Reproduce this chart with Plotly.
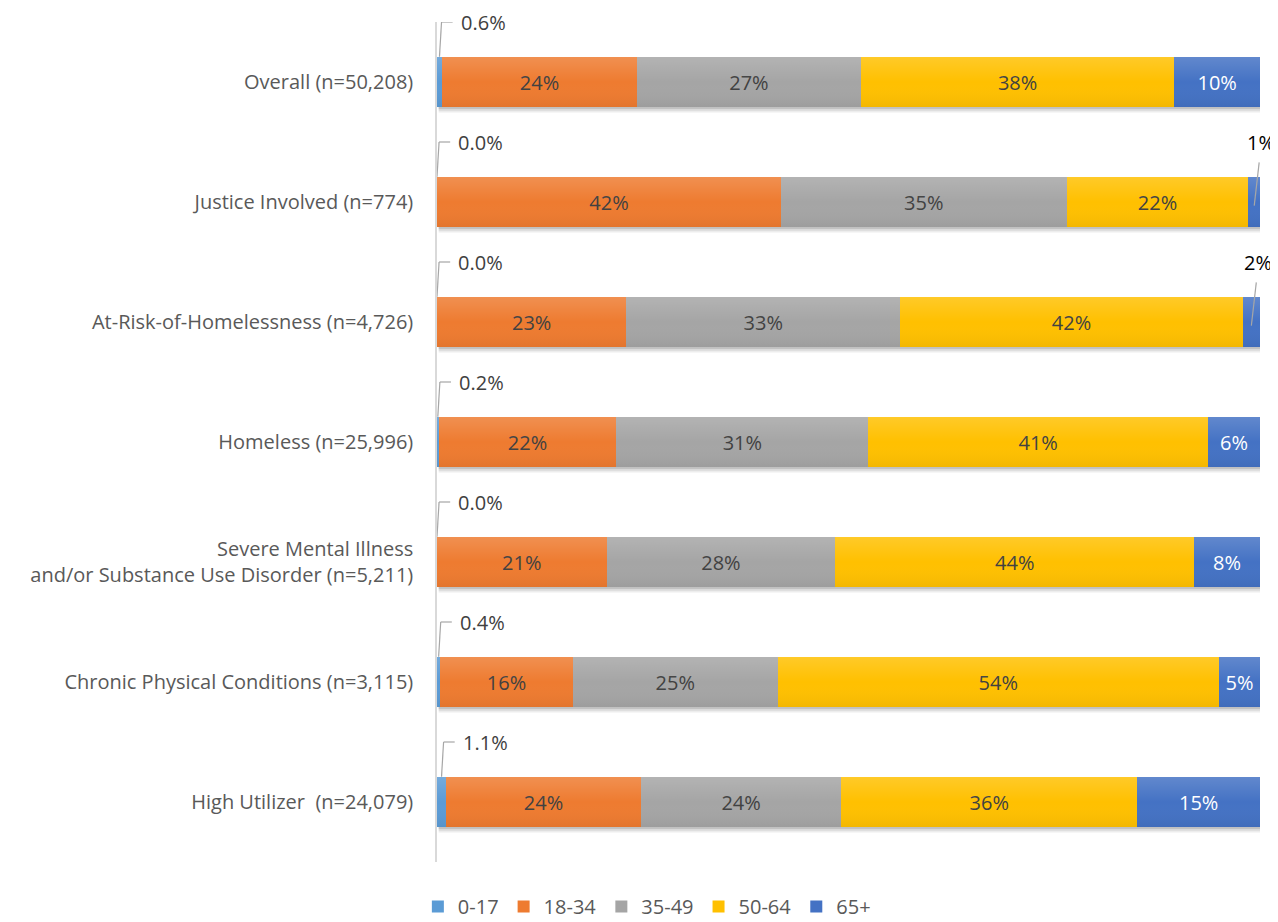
import plotly.graph_objects as go

categories = [
    "Overall (n=50,208)",
    "Justice Involved (n=774)",
    "At-Risk-of-Homelessness (n=4,726)",
    "Homeless (n=25,996)",
    "Severe Mental Illness<br>and/or Substance Use Disorder (n=5,211)",
    "Chronic Physical Conditions (n=3,115)",
    "High Utilizer  (n=24,079)",
]
age_groups = ["0-17", "18-34", "35-49", "50-64", "65+"]
v_0_17 = [0.6, 0.0, 0.0, 0.2, 0.0, 0.4, 1.1]
v_18_34 = [23.7, 41.8, 23.0, 21.6, 20.6, 16.1, 23.7]
v_35_49 = [27.2, 34.7, 33.3, 30.6, 27.8, 24.9, 24.3]
v_50_64 = [38.1, 22.1, 41.6, 41.3, 43.6, 53.6, 36.0]
v_65_plus = [10.4, 1.4, 2.1, 6.3, 8.0, 5.0, 14.9]

series = [v_0_17, v_18_34, v_35_49, v_50_64, v_65_plus]
colors = ["#5B9BD5", "#EE7B30", "#A5A5A5", "#FFC000", "#4472C4"]
text_colors = ["#404040", "#404040", "#404040", "#404040", "#FFFFFF"]
FONT = "Open Sans, Lato, sans-serif"
FS = 20
BW = 0.42  # bar thickness in row units

rows = list(range(len(categories)))

fig = go.Figure()
for name, vals, col, tcol in zip(age_groups, series, colors, text_colors):
    if name == "0-17":
        txt = ["" for _ in vals]
    else:
        txt = [f"{round(v)}%" if v >= 3 else "" for v in vals]
    fig.add_trace(go.Bar(
        name=name, y=rows, x=vals, orientation="h", width=BW,
        marker=dict(color=col, line=dict(width=0)),
        text=txt, textposition="inside", insidetextanchor="middle",
        textangle=0, constraintext="none",
        textfont=dict(family=FONT, size=FS, color=tcol),
        hovertext=[categories[i].replace("<br>", " ") for i in rows],
        hoverinfo="x+text+name",
    ))

# subtle vertical gradient overlay on each bar row (Excel-like)
for i in rows:
    totals = sum(s[i] for s in series)
    y0, y1 = i - BW / 2, i + BW / 2
    fig.add_trace(go.Scatter(
        x=[0, totals, totals, 0, 0], y=[y0, y0, y1, y1, y0],
        mode="lines", line=dict(width=0), fill="toself",
        fillgradient=dict(type="vertical", start=y0, stop=y1,
                          colorscale=[[0, "rgba(255,255,255,0.16)"],
                                      [0.5, "rgba(255,255,255,0.0)"],
                                      [1, "rgba(0,0,0,0.05)"]]),
        showlegend=False, hoverinfo="skip",
    ))

annotations = []
shapes = []
line_col = "#A6A6A6"
# soft shadows under bars
for i in rows:
    totals = sum(s[i] for s in series)
    for dy, a in [(0.045, 0.07), (0.03, 0.08), (0.015, 0.10)]:
        shapes.append(dict(type="rect", xref="x", yref="y", layer="below",
                           x0=0.2, x1=totals + 0.25, y0=i - BW / 2 + dy, y1=i + BW / 2 + dy,
                           fillcolor=f"rgba(0,0,0,{a})", line=dict(width=0)))

# 0-17 labels with leader lines above bar start
for i, v in enumerate(v_0_17):
    xs = v / 2
    shapes.append(dict(type="line", xref="x", yref="y", x0=xs, x1=xs + 0.25,
                       y0=i - BW / 2, y1=i - 0.5, line=dict(color=line_col, width=1.2)))
    shapes.append(dict(type="line", xref="x", yref="y", x0=xs + 0.25, x1=xs + 1.6,
                       y0=i - 0.5, y1=i - 0.5, line=dict(color=line_col, width=1.2)))
    annotations.append(dict(x=xs + 1.6, y=i - 0.5, xref="x", yref="y", text=f"{v:.1f}%",
                            showarrow=False, xanchor="left", yanchor="middle", xshift=6,
                            font=dict(family=FONT, size=FS, color="#404040")))
# small 65+ labels outside, above the bar end
for i, v in enumerate(v_65_plus):
    if v < 3:
        xs = 100 - v / 2
        shapes.append(dict(type="line", xref="x", yref="y", x0=xs, x1=xs + 0.6,
                           y0=i + 0.03, y1=i - 0.33, line=dict(color=line_col, width=1.2)))
        annotations.append(dict(x=xs + 0.6, y=i - 0.5, xref="x", yref="y", text=f"{round(v)}%",
                                showarrow=False, xanchor="center", yanchor="middle", xshift=2,
                                font=dict(family=FONT, size=FS, color="#000000")))

# page body adds an 8px offset, so the figure is sized to fit the window
fig.update_layout(
    barmode="stack",
    width=1270, height=914,
    margin=dict(l=429, r=18, t=14, b=60, autoexpand=False),
    paper_bgcolor="white", plot_bgcolor="white",
    font=dict(family=FONT, size=FS, color="#595959"),
    showlegend=True,
    legend=dict(orientation="h", x=0.255, xanchor="center", y=-0.053, yanchor="middle",
                font=dict(family=FONT, size=FS, color="#595959"),
                traceorder="normal", itemwidth=30),
    xaxis=dict(range=[0, 100], showgrid=False, zeroline=False, showticklabels=False,
               showline=False, fixedrange=True),
    yaxis=dict(range=[6.5, -0.5], tickmode="array", tickvals=rows, ticktext=categories,
               showgrid=False, zeroline=False,
               showline=True, linecolor="#D9D9D9", linewidth=1.5, ticks="",
               ticklabelstandoff=18, automargin=False,
               tickfont=dict(family=FONT, size=FS, color="#595959")),
    shapes=shapes,
    annotations=annotations,
)
fig.write_html("out.html")
